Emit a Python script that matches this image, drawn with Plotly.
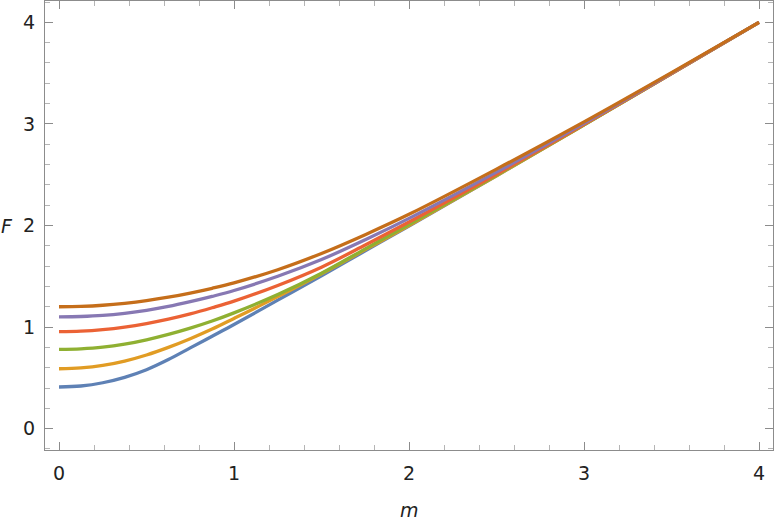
import plotly.graph_objects as go

m_vals = [0, 0.125, 0.25, 0.375, 0.5, 0.625, 0.75, 0.875, 1.0,
          1.25, 1.5, 1.75, 2.0, 2.5, 3.0, 3.5, 4.0]

f_blue = [0.41, 0.42, 0.452, 0.505, 0.58, 0.68, 0.795, 0.91, 1.025,
          1.265, 1.505, 1.75, 1.995, 2.49, 2.99, 3.495, 4.0]
f_orange = [0.59, 0.598, 0.622, 0.665, 0.725, 0.80, 0.885, 0.98, 1.085,
            1.30, 1.525, 1.762, 2.0, 2.49, 2.99, 3.495, 4.0]
f_green = [0.78, 0.786, 0.802, 0.832, 0.875, 0.928, 0.99, 1.06, 1.14,
           1.32, 1.53, 1.77, 2.01, 2.495, 2.99, 3.495, 4.0]
f_red = [0.955, 0.96, 0.975, 1.0, 1.035, 1.078, 1.13, 1.19, 1.255,
         1.41, 1.59, 1.808, 2.035, 2.505, 2.995, 3.495, 4.0]
f_purple = [1.10, 1.104, 1.115, 1.136, 1.165, 1.203, 1.25, 1.302, 1.36,
            1.50, 1.665, 1.86, 2.07, 2.525, 3.005, 3.50, 4.0]
f_brown = [1.20, 1.204, 1.215, 1.234, 1.26, 1.294, 1.335, 1.382, 1.435,
           1.565, 1.725, 1.91, 2.11, 2.555, 3.02, 3.505, 4.0]

series = [f_blue, f_orange, f_green, f_red, f_purple, f_brown]
colors = ["#5E81B5", "#E19C24", "#8FB032", "#EB6235", "#8778B3", "#C56E1A"]

x_ticks = [0, 1, 2, 3, 4]
y_ticks = [0, 1, 2, 3, 4]

fig = go.Figure()
for ys, c in zip(series, colors):
    fig.add_trace(go.Scatter(
        x=m_vals, y=ys, mode="lines",
        line=dict(color=c, width=3.3, shape="spline", smoothing=1.0),
        showlegend=False, hoverinfo="skip",
    ))

axis_common = dict(
    showgrid=False, zeroline=False, automargin=False,
    showline=True, linecolor="#8c8c8c", linewidth=1, mirror="allticks",
    ticks="inside", ticklen=8, tickwidth=1, tickcolor="#8c8c8c",
    tickfont=dict(family="DejaVu Sans", size=19, color="#222"),
    minor=dict(dtick=0.2, ticks="inside", ticklen=5, tickcolor="#b5b5b5", tickwidth=1),
)

fig.update_xaxes(range=[-0.08, 4.08], tickvals=x_ticks, ticklabelstandoff=6, **axis_common)
fig.update_yaxes(range=[-0.21, 4.21], tickvals=y_ticks, ticklabelstandoff=5, **axis_common)

fig.add_annotation(text="<i>m</i>", x=0.5, y=-0.134, xref="paper", yref="paper",
                   xanchor="center", yanchor="middle", showarrow=False,
                   font=dict(family="DejaVu Sans", size=19, color="#222"))
fig.add_annotation(text="<i>F</i>", x=-0.052, y=0.5, xref="paper", yref="paper",
                   xanchor="center", yanchor="middle", showarrow=False,
                   font=dict(family="DejaVu Sans", size=19, color="#222"))

fig.update_layout(
    width=777, height=523,
    margin=dict(l=45, r=4, t=1, b=73),
    plot_bgcolor="white", paper_bgcolor="white",
)

# page has a default body margin; drop it so the figure sits at 0,0
fig.write_html("out.html", config={"displayModeBar": False},
               post_script="document.body.style.margin='0';")
